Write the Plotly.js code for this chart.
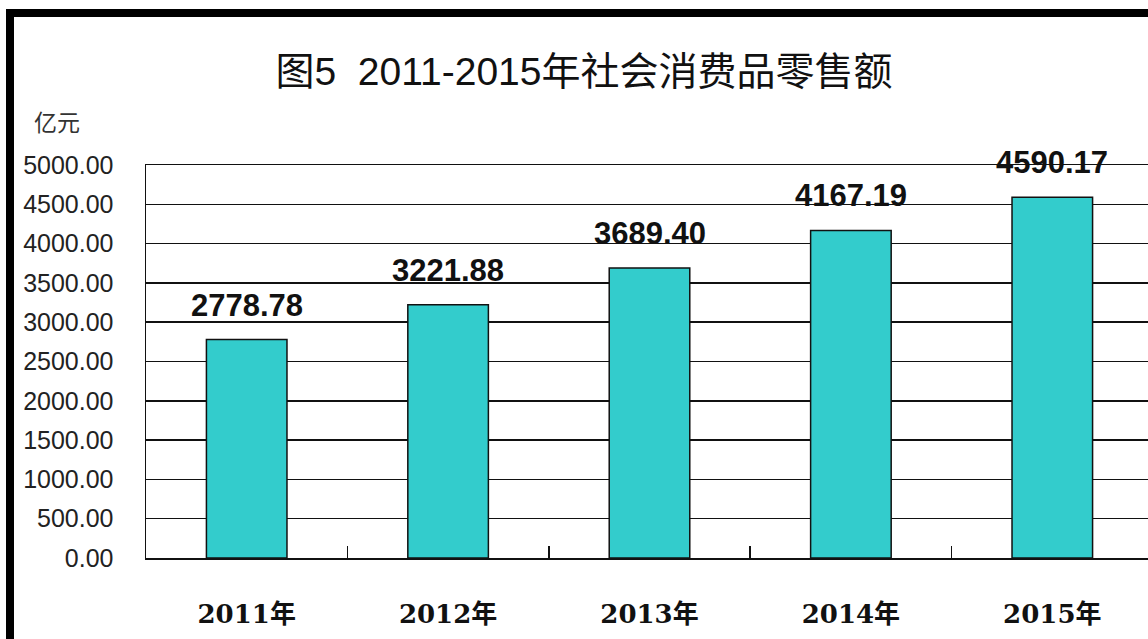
<!DOCTYPE html>
<html>
<head>
<meta charset="utf-8">
<script src="https://cdn.plot.ly/plotly-3.0.1.min.js"></script>
<style>
html,body{margin:0;padding:0;overflow:hidden;background:#fff;width:1148px;height:639px;}
#wrap{position:relative;width:1148px;height:639px;overflow:hidden;}
#chart{position:absolute;left:0;top:0;width:1180px;height:639px;}
#frame{position:absolute;left:6px;top:9px;width:1200px;height:700px;border:8px solid #000;pointer-events:none;box-sizing:border-box;}
</style>
</head>
<body>
<div id="wrap"><div id="chart"></div><div id="frame"></div></div>
<script>
const categories = ['2011年', '2012年', '2013年', '2014年', '2015年'];
const values = [2778.78, 3221.88, 3689.40, 4167.19, 4590.17];
const valueLabels = ['2778.78', '3221.88', '3689.40', '4167.19', '4590.17'];
const yTicks = [0, 500, 1000, 1500, 2000, 2500, 3000, 3500, 4000, 4500, 5000];
const titleText = '图5\u00A0 2011-2015年社会消费品零售额';
const unitText = '亿元';

const W = 1180, H = 639;
const trace = {
  type: 'bar',
  x: categories,
  y: values,
  width: 0.4,
  marker: {color: '#33CCCC', line: {color: '#111', width: 1.5}},
  hoverinfo: 'none'
};

const annotations = categories.map((c, i) => ({
  x: c, y: values[i], xref: 'x', yref: 'y',
  text: valueLabels[i], showarrow: false,
  yanchor: 'bottom', xanchor: 'center', yshift: 15,
  font: {family: 'Liberation Sans, Arial, sans-serif', size: 31, color: '#111', weight: 'bold'}
}));
annotations.push({
  text: unitText, xref: 'paper', yref: 'paper', showarrow: false,
  x: (57 - 146) / (W - 146 - 27), y: (558.5 - 121) / (558.5 - 165),
  xanchor: 'center', yanchor: 'middle',
  font: {family: 'Noto Sans CJK SC, sans-serif', size: 23, color: '#333'}
});

const layout = {
  width: W, height: H,
  margin: {l: 146, r: 27, t: 165, b: 80.5},
  paper_bgcolor: '#fff', plot_bgcolor: '#fff',
  showlegend: false,
  title: {
    text: titleText,
    x: 584 / W, xref: 'container', xanchor: 'center',
    y: 1 - 71 / H, yref: 'container', yanchor: 'middle',
    font: {family: 'Liberation Sans, Noto Sans CJK SC, sans-serif', size: 39, color: '#111'}
  },
  xaxis: {
    type: 'category',
    range: [-0.5, 4.5],
    showline: true, mirror: true, linecolor: '#111', linewidth: 1.5,
    ticks: 'inside', tickson: 'boundaries', ticklen: 12, tickwidth: 1.5, tickcolor: '#111',
    ticklabelstandoff: 32,
    tickfont: {family: 'DejaVu Serif, Noto Sans CJK SC, serif', size: 26, color: '#111', weight: 'bold'},
    showgrid: false, fixedrange: true
  },
  yaxis: {
    range: [0, 5000],
    tickvals: yTicks, tickformat: '.2f',
    showline: true, linecolor: '#111', linewidth: 1.5,
    showgrid: true, gridcolor: '#111', gridwidth: 1.5,
    zeroline: false, ticks: '',
    ticklabelstandoff: 26,
    tickfont: {family: 'Liberation Sans, Arial, sans-serif', size: 25, color: '#222'},
    fixedrange: true
  },
  annotations: annotations
};

Plotly.newPlot('chart', [trace], layout, {displayModeBar: false, staticPlot: true});
</script>
</body>
</html>
